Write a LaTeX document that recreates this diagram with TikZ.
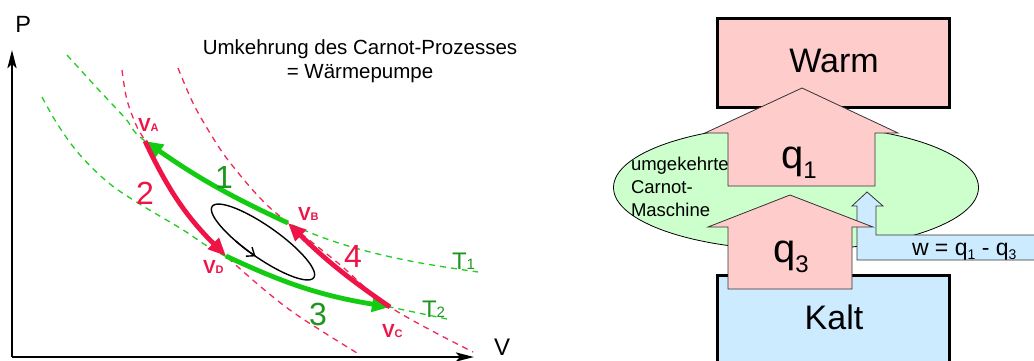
\documentclass[tikz,border=0pt]{standalone}
\usepackage{fontspec}
\setmainfont{Liberation Sans}
\usetikzlibrary{arrows.meta}
\definecolor{rline}{HTML}{F02855}
\definecolor{rarr}{HTML}{EE1448}
\definecolor{gline}{HTML}{22CC22}
\definecolor{garr}{HTML}{11CC11}
\definecolor{gtext}{HTML}{1E961E}
\definecolor{warmfill}{HTML}{FFCCCC}
\definecolor{kaltfill}{HTML}{CCEBFF}
\definecolor{ellfill}{HTML}{CCFFCC}
\newcommand\fs[1]{\fontsize{#1}{#1}\selectfont}
\begin{document}
\begin{tikzpicture}[x=1pt,y=-1pt,
  every node/.style={inner sep=0pt, outer sep=0pt},
  isoline/.style={gline, line width=1.3pt, dash pattern=on 6pt off 5pt},
  adiline/.style={rline, line width=1.3pt, dash pattern=on 6pt off 5pt},
  gflow/.style={garr, line width=4.8pt, -{Triangle[length=18pt,width=15pt]}},
  rflow/.style={rarr, line width=4.8pt, -{Triangle[length=18pt,width=15pt]}},
  axisline/.style={line width=2.8pt, -{Stealth[length=18pt,width=9pt,inset=4pt]}},
  ptlabel/.style={text=rarr, anchor=base west, font=\bfseries},
  reservoir/.style={draw=black, line width=3pt},
  blockarrow/.style={draw=black!80, line width=0.8pt},
]
\useasboundingbox (0,0) rectangle (1034,360);
\fill[white] (0,0) rectangle (1034,360);

% ---------- left: p-V diagram ----------
\coordinate (O) at (12,357);
\coordinate (Ptip) at (12,50);
\coordinate (Vtip) at (474,357);
\draw[axisline] (O) -- (Ptip);
\draw[axisline] (O) -- (Vtip);
\node[anchor=base west] (Plab) at (15.5,32) {\fs{23.5}P};
\node[anchor=base west] (Vlab) at (494,355) {\fs{24}V};

\node[anchor=base] (title1) at (360,54) {\fs{20.5}Umkehrung des Carnot-Prozesses};
\node[anchor=base] (title2) at (360,78) {\fs{20.5}= Wärmepumpe};

% isotherms
\draw[isoline] plot[smooth, tension=0.6] coordinates
  {(67,55) (97,88) (125,118) (145,141) (215,185) (288,223) (345,245) (410,261) (478,272)};
\draw[isoline] plot[smooth, tension=0.6] coordinates
  {(42,97) (58,125) (80,155) (110,184) (143,206) (180,228) (227,257) (310,290) (390,307) (447,319)};
% adiabats
\draw[adiline] plot[smooth, tension=0.6] coordinates
  {(122,70) (127,100) (137,127) (145,141) (170,190) (200,230) (227,257) (267,292) (300,317) (357,353)};
\draw[adiline] plot[smooth, tension=0.6] coordinates
  {(178,68) (193,103) (210,133) (228,160) (260,198) (288,223) (338,263) (390,307) (473,352)};

\coordinate (A) at (145,141);
\coordinate (B) at (288,223);
\coordinate (C) at (390,307);
\coordinate (D) at (226,256);

% black cycle ellipse
\draw[line width=1.4pt] plot[domain=0:360, samples=120]
  ({263+62*cos(\x)*0.819-16*sin(\x)*0.574},{242+62*cos(\x)*0.574+16*sin(\x)*0.819});
\draw[line width=1.4pt, -{Straight Barb[length=7pt,width=11pt]}] plot[domain=112:88, samples=12]
  ({263+62*cos(\x)*0.819-16*sin(\x)*0.574},{242+62*cos(\x)*0.574+16*sin(\x)*0.819});

% process arrows
\draw[gflow] (B) to[bend left=5] (A);
\draw[rflow] (A) to[bend right=10] (D);
\draw[gflow] (D) to[bend right=8] (C);
\draw[rflow] (C) to[bend left=5] (B);

\node[ptlabel] (lA) at (138,131) {\fs{19}V\fs{11}A};
\node[ptlabel] (lB) at (298,220) {\fs{19}V\fs{11}B};
\node[ptlabel] (lC) at (382,337) {\fs{19}V\fs{11}C};
\node[ptlabel] (lD) at (203,273) {\fs{19}V\fs{11}D};

\node[anchor=base west, text=gtext] (n1) at (215,188) {\fs{32}1};
\node[anchor=base west, text=rarr] (n2) at (136,204) {\fs{32}2};
\node[anchor=base west, text=gtext] (n3) at (309,325) {\fs{32}3};
\node[anchor=base west, text=rarr] (n4) at (344,267) {\fs{32}4};

\node[anchor=base west, text=gtext] (T1) at (452,269) {\fs{24}T\fs{15}1};
\node[anchor=base west, text=gtext] (T2) at (422,317) {\fs{24}T\fs{15}2};

% ---------- right: heat pump scheme ----------
\draw[fill=ellfill, draw=black, line width=0.8pt] (796,187.5) ellipse [x radius=182.5, y radius=62.5];
\draw[reservoir, fill=warmfill] (717,18) rectangle (949,107);
\draw[reservoir, fill=kaltfill] (717,275) rectangle (949,380);

% work arrow
\draw[blockarrow, fill=kaltfill] (867,192) -- (883,206) -- (876,206) -- (876,235) -- (1040,235)
  -- (1040,260) -- (857,260) -- (857,206) -- (852,206) -- cycle;
% q3 arrow
\draw[blockarrow, fill=warmfill] (790,195) -- (873,227) -- (852,227) -- (852,289) -- (728,289)
  -- (728,227) -- (708,227) -- cycle;
% q1 arrow
\draw[blockarrow, fill=warmfill] (802,88) -- (898,133) -- (875,133) -- (875,186) -- (728,186)
  -- (728,133) -- (705,133) -- cycle;

\node[anchor=base] (warm) at (834,72) {\fs{34}Warm};
\node[anchor=base] (kalt) at (834,329) {\fs{34}Kalt};
\node[anchor=base west] (q1) at (781,168) {\fs{40}q\raisebox{-10pt}{\fs{24}1}};
\node[anchor=base west] (q3) at (773,262) {\fs{40}q\raisebox{-10pt}{\fs{24}3}};
\node[anchor=base west] (m1) at (631,170) {\fs{18.5}umgekehrte};
\node[anchor=base west] (m2) at (631,193) {\fs{18.5}Carnot-};
\node[anchor=base west] (m3) at (631,216) {\fs{18.5}Maschine};
\node[anchor=base west] (w) at (912,255) {\fs{23}w = q\raisebox{-4pt}{\fs{14}1} - q\raisebox{-4pt}{\fs{14}3}};
\end{tikzpicture}
\end{document}
